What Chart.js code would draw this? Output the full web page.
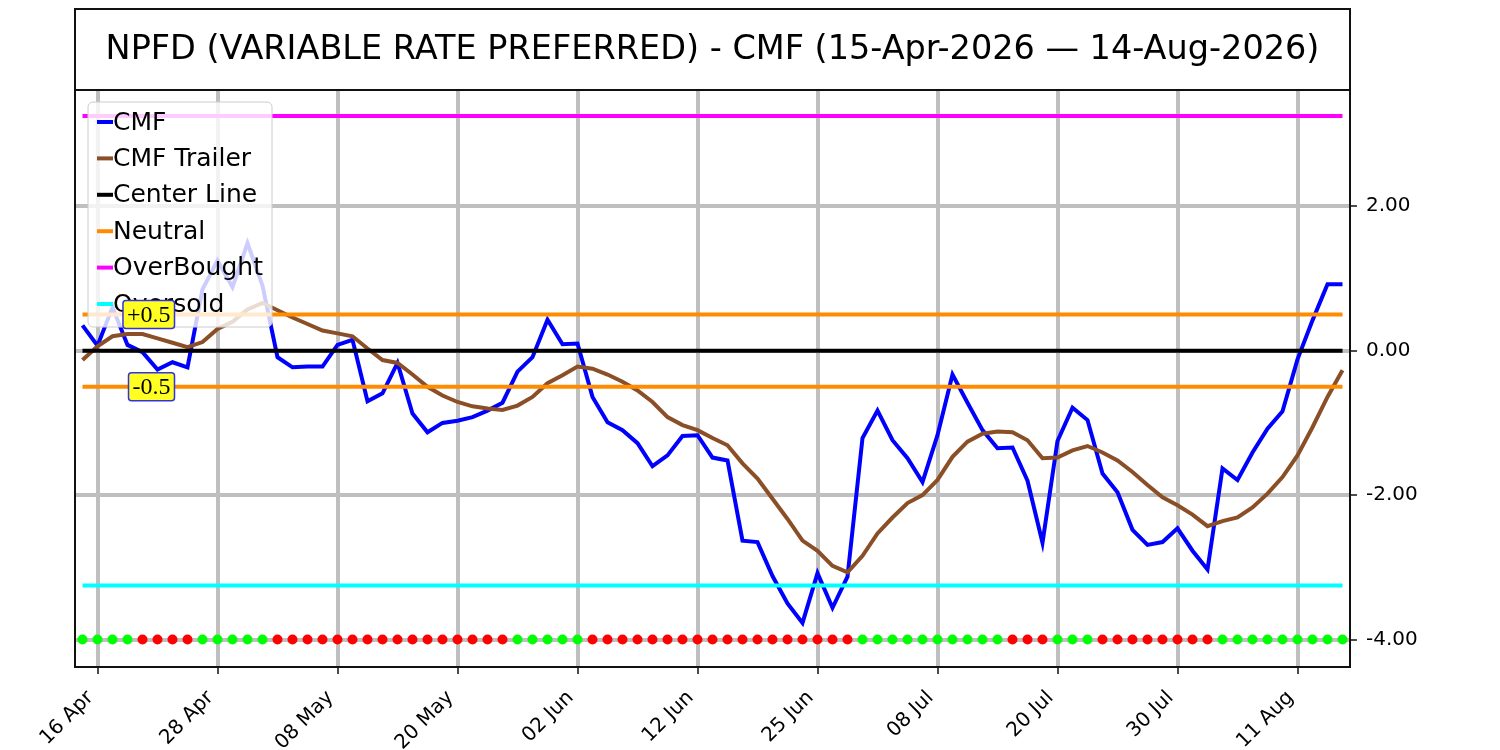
<!DOCTYPE html>
<html>
<head>
<meta charset="utf-8">
<script src="https://cdn.jsdelivr.net/npm/chart.js@4.4.1/dist/chart.umd.min.js"></script>
<style>
  html, body { margin: 0; padding: 0; background: #fff; }
  #wrap { width: 1500px; height: 750px; }
</style>
</head>
<body>
<div id="wrap"><canvas id="graph" width="1500" height="750"></canvas></div>
<script>
// trading days, 15 Apr 2026 .. 14 Aug 2026
var tradingDays = [
  "15 Apr", "16 Apr", "17 Apr", "20 Apr", "21 Apr", "22 Apr", "23 Apr", "24 Apr", "27 Apr", "28 Apr",
  "29 Apr", "30 Apr", "01 May", "04 May", "05 May", "06 May", "07 May", "08 May", "11 May", "12 May",
  "13 May", "14 May", "15 May", "18 May", "19 May", "20 May", "21 May", "22 May", "26 May", "27 May",
  "28 May", "29 May", "01 Jun", "02 Jun", "03 Jun", "04 Jun", "05 Jun", "08 Jun", "09 Jun", "10 Jun",
  "11 Jun", "12 Jun", "15 Jun", "16 Jun", "17 Jun", "18 Jun", "22 Jun", "23 Jun", "24 Jun", "25 Jun",
  "26 Jun", "29 Jun", "30 Jun", "01 Jul", "02 Jul", "06 Jul", "07 Jul", "08 Jul", "09 Jul", "10 Jul",
  "13 Jul", "14 Jul", "15 Jul", "16 Jul", "17 Jul", "20 Jul", "21 Jul", "22 Jul", "23 Jul", "24 Jul",
  "27 Jul", "28 Jul", "29 Jul", "30 Jul", "31 Jul", "03 Aug", "04 Aug", "05 Aug", "06 Aug", "07 Aug",
  "10 Aug", "11 Aug", "12 Aug", "13 Aug", "14 Aug"
];

var cmf = [
  0.35, 0.07, 0.60, 0.08, -0.02, -0.26, -0.16, -0.23, 0.85, 1.25,
  0.88, 1.49, 0.90, -0.09, -0.23, -0.22, -0.22, 0.08, 0.15, -0.70,
  -0.59, -0.17, -0.87, -1.13, -1.00, -0.97, -0.92, -0.83, -0.72, -0.29,
  -0.09, 0.43, 0.09, 0.10, -0.64, -0.99, -1.10, -1.28, -1.60, -1.45,
  -1.18, -1.17, -1.48, -1.52, -2.63, -2.65, -3.12, -3.50, -3.77, -3.08,
  -3.56, -3.13, -1.21, -0.83, -1.24, -1.49, -1.82, -1.17, -0.33, -0.72,
  -1.10, -1.35, -1.34, -1.80, -2.66, -1.25, -0.79, -0.96, -1.70, -1.96,
  -2.48, -2.69, -2.65, -2.46, -2.77, -3.03, -1.63, -1.79, -1.41, -1.08,
  -0.84, -0.12, 0.42, 0.92, 0.92
];

var cmfTrailer = [
  -0.13, 0.06, 0.20, 0.23, 0.23, 0.17, 0.11, 0.05, 0.12, 0.30,
  0.40, 0.57, 0.66, 0.56, 0.46, 0.37, 0.28, 0.24, 0.20, 0.03,
  -0.13, -0.17, -0.33, -0.50, -0.62, -0.71, -0.77, -0.80, -0.82, -0.76,
  -0.64, -0.45, -0.34, -0.22, -0.25, -0.33, -0.43, -0.55, -0.71, -0.92,
  -1.03, -1.10, -1.21, -1.31, -1.56, -1.77, -2.05, -2.33, -2.63, -2.77,
  -2.98, -3.07, -2.84, -2.53, -2.31, -2.11, -2.00, -1.79, -1.47, -1.26,
  -1.15, -1.12, -1.13, -1.24, -1.49, -1.48, -1.38, -1.32, -1.41, -1.52,
  -1.68, -1.86, -2.03, -2.14, -2.27, -2.43, -2.36, -2.31, -2.17, -1.98,
  -1.75, -1.45, -1.06, -0.64, -0.27
];

// 1 = green dot, 0 = red dot (row along the bottom)
var signal = [
  1, 1, 1, 1, 0, 0, 0, 0, 1, 1,
  1, 1, 1, 0, 0, 0, 0, 0, 0, 0,
  0, 0, 0, 0, 0, 0, 0, 0, 0, 1,
  1, 1, 1, 1, 0, 0, 0, 0, 0, 0,
  0, 0, 0, 0, 0, 0, 0, 0, 0, 0,
  0, 0, 1, 1, 1, 1, 1, 1, 1, 1,
  1, 1, 0, 0, 0, 1, 1, 1, 0, 0,
  0, 0, 0, 0, 0, 0, 1, 1, 1, 1,
  1, 1, 1, 1, 1
];

var centerLevel = 0;
var neutralLevel = 0.5;
var overBoughtLevel = 3.25;
var overSoldLevel = -3.25;
var signalLevel = -4;
var yTickValues = [-4, -2, 0, 2];

var titleText = "NPFD (VARIABLE RATE PREFERRED) - CMF (15-Apr-2026 \u2014 14-Aug-2026)";
var fontFamily = "'DejaVu Sans', sans-serif";

var flat = function(level) {
  return tradingDays.map(function() { return level; });
};

var legendItems = [
  { label: "CMF", color: "#0000ff" },
  { label: "CMF Trailer", color: "#8b4f27" },
  { label: "Center Line", color: "#000000" },
  { label: "Neutral", color: "#ff8c00" },
  { label: "OverBought", color: "#ff00ff" },
  { label: "Oversold", color: "#00ffff" }
];

var lineDefaults = {
  type: "line",
  borderWidth: 4,
  pointRadius: 0,
  tension: 0,
  fill: false
};

var makeLine = function(data, color, order) {
  return Object.assign({}, lineDefaults, {
    data: data,
    borderColor: color,
    order: order
  });
};

// matplotlib-style frame, title box, legend and level labels
var decorations = {
  id: "decorations",
  afterDatasetsDraw: function(chart) {
    var ctx = chart.ctx;
    var xs = chart.scales.x, ys = chart.scales.y;

    // legend
    ctx.save();
    ctx.beginPath();
    ctx.roundRect(88, 102, 184, 225, 5);
    ctx.fillStyle = "rgba(255,255,255,0.8)";
    ctx.fill();
    ctx.strokeStyle = "#cccccc";
    ctx.lineWidth = 1;
    ctx.stroke();
    ctx.font = "25px " + fontFamily;
    ctx.textBaseline = "middle";
    ctx.textAlign = "left";
    legendItems.forEach(function(item, i) {
      var y = 122 + i * 36.4;
      ctx.beginPath();
      ctx.moveTo(97, y);
      ctx.lineTo(113, y);
      ctx.strokeStyle = item.color;
      ctx.lineWidth = 4;
      ctx.stroke();
      ctx.fillStyle = "#000";
      ctx.fillText(item.label, 113, y + 1);
    });
    ctx.restore();

    // +0.5 / -0.5 labels
    ctx.save();
    ctx.font = "24px 'Liberation Serif', serif";
    ctx.textBaseline = "middle";
    ctx.textAlign = "right";
    [neutralLevel, -neutralLevel].forEach(function(level) {
      var txt = (level > 0 ? "+" : "-") + Math.abs(level).toFixed(1);
      var right = xs.getPixelForValue(6) - 2;
      var cy = ys.getPixelForValue(level);
      var w = ctx.measureText(txt).width;
      ctx.beginPath();
      ctx.roundRect(right - w - 4, cy - 14, w + 8, 28, 3);
      ctx.fillStyle = "#ffff22";
      ctx.fill();
      ctx.strokeStyle = "#3333dd";
      ctx.lineWidth = 1.5;
      ctx.stroke();
      ctx.fillStyle = "#000";
      ctx.fillText(txt, right, cy + 1);
    });
    ctx.restore();
  },
  afterDraw: function(chart) {
    var ctx = chart.ctx;
    var a = chart.chartArea;
    ctx.save();
    ctx.strokeStyle = "#111";
    ctx.lineWidth = 2;
    ctx.strokeRect(a.left, a.top, a.right - a.left, a.bottom - a.top);
    ctx.strokeRect(a.left, 9, a.right - a.left, a.top - 9);
    ctx.fillStyle = "#000";
    ctx.font = "33.5px " + fontFamily;
    ctx.textAlign = "center";
    ctx.textBaseline = "middle";
    ctx.fillText(titleText, (a.left + a.right) / 2, 50);
    ctx.restore();
  }
};

var ctx = document.getElementById("graph").getContext("2d");
var cmfChart = new Chart(ctx, {
  type: "line",
  data: {
    labels: tradingDays,
    datasets: [
      makeLine(cmf, legendItems[0].color, 8),
      makeLine(cmfTrailer, legendItems[1].color, 7),
      makeLine(flat(centerLevel), legendItems[2].color, 6),
      makeLine(flat(neutralLevel), legendItems[3].color, 5),
      makeLine(flat(-neutralLevel), legendItems[3].color, 5),
      makeLine(flat(overBoughtLevel), legendItems[4].color, 4),
      makeLine(flat(overSoldLevel), legendItems[5].color, 3),
      {
        type: "line",
        data: flat(signalLevel),
        showLine: false,
        pointRadius: 5,
        pointBorderWidth: 0,
        pointBackgroundColor: signal.map(function(s) { return s ? "#00ff00" : "#ff0000"; }),
        order: 1
      }
    ]
  },
  options: {
    responsive: false,
    animation: false,
    devicePixelRatio: 1,
    layout: { padding: { left: 75, top: 90, right: 0, bottom: 0 } },
    plugins: {
      legend: { display: false },
      title: { display: false },
      tooltip: { enabled: false }
    },
    scales: {
      x: {
        type: "category",
        offset: true,
        border: { display: false },
        grid: {
          offset: false,
          color: "#bfbfbf",
          lineWidth: 4,
          tickLength: 7,
          tickColor: "#111",
          tickWidth: 1.5
        },
        ticks: {
          autoSkip: false,
          maxRotation: 45,
          minRotation: 45,
          padding: 5,
          color: "#000",
          font: { family: fontFamily, size: 20 },
          callback: function(value, index) {
            // en space keeps the rotated label's corner (not its middle) at the tick, like matplotlib
            return index % 8 === 1 ? this.getLabelForValue(value) + "\u2002" : null;
          }
        },
        afterFit: function(scale) {
          scale.height = 83;
          scale.paddingLeft = 0;
          scale.paddingRight = 0;
        }
      },
      y: {
        position: "right",
        min: -4.38,
        max: 3.61,
        border: { display: false },
        grid: {
          color: "#bfbfbf",
          lineWidth: 4,
          tickLength: 7,
          tickColor: "#111",
          tickWidth: 1.5
        },
        afterBuildTicks: function(scale) {
          scale.ticks = yTickValues.map(function(v) { return { value: v }; });
        },
        ticks: {
          padding: 9,
          color: "#000",
          font: { family: fontFamily, size: 20 },
          callback: function(value) { return value.toFixed(2); }
        },
        afterFit: function(scale) {
          scale.width = 150;
        }
      }
    }
  },
  plugins: [decorations]
});
</script>
</body>
</html>
